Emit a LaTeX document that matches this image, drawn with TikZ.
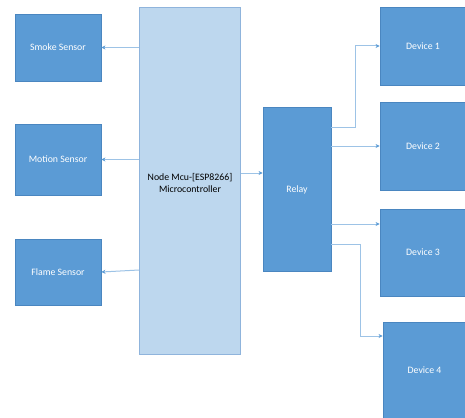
\documentclass[tikz,border=0pt]{standalone}
\usepackage{fontspec}
\setmainfont{Carlito}
\usetikzlibrary{arrows.meta}
\definecolor{boxblue}{HTML}{5B9BD5}
\definecolor{boxedge}{HTML}{4A86C0}
\definecolor{mcufill}{HTML}{BDD7EE}
\definecolor{mcuedge}{HTML}{8FB4DC}
\definecolor{linkblue}{HTML}{9DC3E6}
\tikzset{
  blk/.style={draw=boxedge, fill=boxblue, line width=0.8pt, text=white, font=\fontsize{9.8}{11}\selectfont, inner sep=0pt},
  mcu/.style={draw=mcuedge, fill=mcufill, line width=0.8pt, text=black, font=\fontsize{9.8}{12}\selectfont, inner sep=0pt, align=center},
  link/.style={draw=linkblue, line width=1pt, -{Stealth[length=4pt,width=4pt,color=boxblue]}}
}
\begin{document}
\begin{tikzpicture}[x=1pt,y=-1pt]
\useasboundingbox (0,0) rectangle (465,417);
\fill[white] (0,0) rectangle (465,417);
% boxes
\node[blk, minimum width=86pt, minimum height=67pt] (smoke) at (58,47.5) {Smoke Sensor};
\node[blk, minimum width=86pt, minimum height=71pt] (motion) at (58,159.5) {Motion Sensor};
\node[blk, minimum width=86pt, minimum height=66pt] (flame) at (58,272) {Flame Sensor};
\node[mcu, minimum width=101pt, minimum height=347pt] (mcu) at (190,180.5) {};
\node[font=\fontsize{9.8}{12}\selectfont, align=center] (mcutext) at (190,182.5) {Node Mcu-[ESP8266]\\Microcontroller};
\node[blk, minimum width=68pt, minimum height=164pt] (relay) at (297,189) {};
\node[text=white, font=\fontsize{9.8}{11}\selectfont] (relaytext) at (297,190) {Relay};
\node[blk, minimum width=86pt, minimum height=78pt] (d1) at (423,46) {Device 1};
\node[blk, minimum width=86pt, minimum height=88pt] (d2) at (423,146) {Device 2};
\node[blk, minimum width=86pt, minimum height=87pt] (d3) at (423,252.5) {Device 3};
\node[blk, minimum width=83pt, minimum height=96pt] (d4) at (424.5,370) {Device 4};
% connectors
\draw[link] (mcu.west |- smoke) -- (smoke.east);
\draw[link] (mcu.west |- motion) -- (motion.east);
\draw[link] (139,270) -- (flame.east |- 0,272);
\draw[link] (mcu.east |- 0,173) -- (relay.west |- 0,173);
\coordinate (r1) at (331,127);
\coordinate (k1) at (355,127);
\draw[link] (r1) -- (k1) |- (d1.west);
\draw[link] (relay.east |- d2) -- (d2.west);
\draw[link] (331,224) -- (d3.west |- 0,224);
\coordinate (r4) at (331,244);
\coordinate (k4) at (360,244);
\draw[link] (r4) -- (k4) |- (d4.west |- 0,336);
\end{tikzpicture}
\end{document}
